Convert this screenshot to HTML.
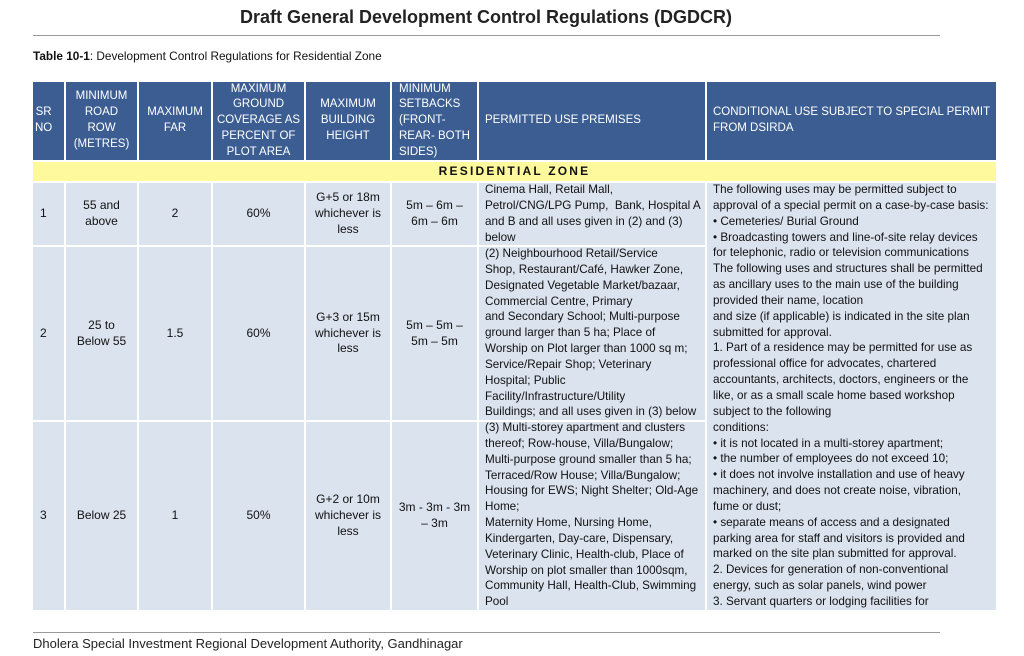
<!DOCTYPE html>
<html><head><meta charset="utf-8"><style>
body{margin:0;width:1024px;height:656px;background:#fff;position:relative;font-family:"Liberation Sans",sans-serif;overflow:hidden}
.a{position:absolute}
.h{position:absolute;background:#3b5d92;color:#fff;font-size:11.5px;line-height:15.8px;display:flex;align-items:center;justify-content:center;text-align:center;box-sizing:border-box;padding:0 2px;white-space:nowrap}
.c{position:absolute;background:#dbe3ef;color:#111;font-size:12px;line-height:15.8px;display:flex;align-items:center;justify-content:center;text-align:center;box-sizing:border-box;padding:0 2px}
.t{position:absolute;color:#111;font-size:11.7px;line-height:15.85px;white-space:nowrap}
</style></head><body>
<div class="a" style="left:0;width:972px;top:7px;text-align:center;font-size:18px;font-weight:bold;color:#222">Draft General Development Control Regulations (DGDCR)</div>
<div class="a" style="left:33px;width:907px;top:35px;height:1px;background:#999"></div>
<div class="a" style="left:33px;top:49px;font-size:11.8px;color:#111"><b>Table 10-1</b>: Development Control Regulations for Residential Zone</div>

<div>
<div class="h" style="left:33px;top:82px;width:31px;height:78px;justify-content:flex-start">SR<br>NO</div>
<div class="h" style="left:66px;top:82px;width:71px;height:78px">MINIMUM<br>ROAD<br>ROW<br>(METRES)</div>
<div class="h" style="left:139px;top:82px;width:72px;height:78px">MAXIMUM<br>FAR</div>
<div class="h" style="left:213px;top:82px;width:91px;height:78px">MAXIMUM<br>GROUND<br>COVERAGE AS<br>PERCENT OF<br>PLOT AREA</div>
<div class="h" style="left:306px;top:82px;width:84px;height:78px">MAXIMUM<br>BUILDING<br>HEIGHT</div>
<div class="h" style="left:392px;top:82px;width:85px;height:78px;justify-content:flex-start;text-align:left;padding-left:7px">MINIMUM<br>SETBACKS<br>(FRONT-<br>REAR- BOTH<br>SIDES)</div>
<div class="h" style="left:479px;top:82px;width:226px;height:78px;justify-content:flex-start;padding-left:6px">PERMITTED USE PREMISES</div>
<div class="h" style="left:707px;top:82px;width:289px;height:78px;justify-content:flex-start;text-align:left;padding-left:6px">CONDITIONAL USE SUBJECT TO SPECIAL PERMIT<br>FROM DSIRDA</div>

<div class="a" style="left:33px;top:162px;width:963px;height:19px;background:#fdf99c;font-size:12px;font-weight:bold;letter-spacing:2.2px;text-align:center;line-height:19px;color:#111">RESIDENTIAL ZONE</div>

<!-- row 1 -->
<div class="c" style="left:33px;top:183px;width:31px;height:62px;justify-content:flex-start;padding-left:7px">1</div>
<div class="c" style="left:66px;top:183px;width:71px;height:62px">55 and<br>above</div>
<div class="c" style="left:139px;top:183px;width:72px;height:62px">2</div>
<div class="c" style="left:213px;top:183px;width:91px;height:62px">60%</div>
<div class="c" style="left:306px;top:183px;width:84px;height:62px">G+5 or 18m<br>whichever is<br>less</div>
<div class="c" style="left:392px;top:183px;width:85px;height:62px">5m – 6m –<br>6m – 6m</div>
<div class="c" style="left:479px;top:183px;width:226px;height:62px"></div>
<!-- row 2 -->
<div class="c" style="left:33px;top:247px;width:31px;height:173px;justify-content:flex-start;padding-left:7px">2</div>
<div class="c" style="left:66px;top:247px;width:71px;height:173px">25 to<br>Below 55</div>
<div class="c" style="left:139px;top:247px;width:72px;height:173px">1.5</div>
<div class="c" style="left:213px;top:247px;width:91px;height:173px">60%</div>
<div class="c" style="left:306px;top:247px;width:84px;height:173px">G+3 or 15m<br>whichever is<br>less</div>
<div class="c" style="left:392px;top:247px;width:85px;height:173px">5m – 5m –<br>5m – 5m</div>
<div class="c" style="left:479px;top:247px;width:226px;height:173px"></div>
<!-- row 3 -->
<div class="c" style="left:33px;top:422px;width:31px;height:188px;justify-content:flex-start;padding-left:7px">3</div>
<div class="c" style="left:66px;top:422px;width:71px;height:188px">Below 25</div>
<div class="c" style="left:139px;top:422px;width:72px;height:188px">1</div>
<div class="c" style="left:213px;top:422px;width:91px;height:188px">50%</div>
<div class="c" style="left:306px;top:422px;width:84px;height:188px">G+2 or 10m<br>whichever is<br>less</div>
<div class="c" style="left:392px;top:422px;width:85px;height:188px">3m - 3m - 3m<br>– 3m</div>
<div class="c" style="left:479px;top:422px;width:226px;height:188px"></div>
<div class="c" style="left:707px;top:183px;width:289px;height:427px"></div>

<div class="t" style="left:485px;top:182px">Cinema Hall, Retail Mall,<br>Petrol/CNG/LPG Pump,&nbsp; Bank, Hospital A<br>and B and all uses given in (2) and (3)<br>below</div>
<div class="t" style="left:485px;top:246px">(2) Neighbourhood Retail/Service<br>Shop, Restaurant/Café, Hawker Zone,<br>Designated Vegetable Market/bazaar,<br>Commercial Centre, Primary<br>and Secondary School; Multi-purpose<br>ground larger than 5 ha; Place of<br>Worship on Plot larger than 1000 sq m;<br>Service/Repair Shop; Veterinary<br>Hospital; Public<br>Facility/Infrastructure/Utility<br>Buildings; and all uses given in (3) below</div>
<div class="t" style="left:485px;top:420px">(3) Multi-storey apartment and clusters<br>thereof; Row-house, Villa/Bungalow;<br>Multi-purpose ground smaller than 5 ha;<br>Terraced/Row House; Villa/Bungalow;<br>Housing for EWS; Night Shelter; Old-Age<br>Home;<br>Maternity Home, Nursing Home,<br>Kindergarten, Day-care, Dispensary,<br>Veterinary Clinic, Health-club, Place of<br>Worship on plot smaller than 1000sqm,<br>Community Hall, Health-Club, Swimming<br>Pool</div>
<div class="t" style="left:713px;top:182px">The following uses may be permitted subject to<br>approval of a special permit on a case-by-case basis:<br>• Cemeteries/ Burial Ground<br>• Broadcasting towers and line-of-site relay devices<br>for telephonic, radio or television communications<br>The following uses and structures shall be permitted<br>as ancillary uses to the main use of the building<br>provided their name, location<br>and size (if applicable) is indicated in the site plan<br>submitted for approval.<br>1. Part of a residence may be permitted for use as<br>professional office for advocates, chartered<br>accountants, architects, doctors, engineers or the<br>like, or as a small scale home based workshop<br>subject to the following<br>conditions:<br>• it is not located in a multi-storey apartment;<br>• the number of employees do not exceed 10;<br>• it does not involve installation and use of heavy<br>machinery, and does not create noise, vibration,<br>fume or dust;<br>• separate means of access and a designated<br>parking area for staff and visitors is provided and<br>marked on the site plan submitted for approval.<br>2. Devices for generation of non-conventional<br>energy, such as solar panels, wind power<br>3. Servant quarters or lodging facilities for</div>
</div>

<div class="a" style="left:33px;width:907px;top:632px;height:1px;background:#999"></div>
<div class="a" style="left:33px;top:636px;font-size:13px;color:#222">Dholera Special Investment Regional Development Authority, Gandhinagar</div>
</body></html>
